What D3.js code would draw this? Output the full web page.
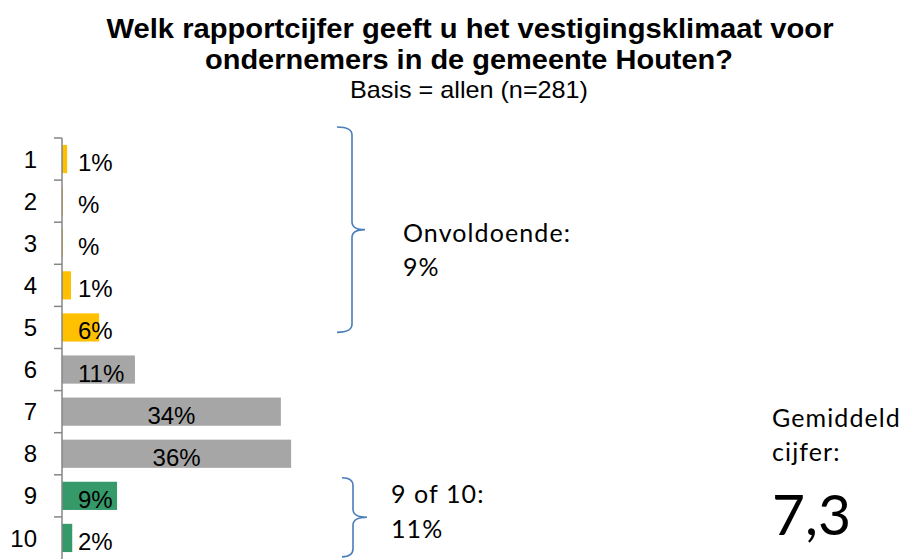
<!DOCTYPE html>
<html>
<head>
<meta charset="utf-8">
<script src="https://cdn.jsdelivr.net/npm/d3@7"></script>
<style>
  body { margin: 0; background: #fff; }
  svg { display: block; }
</style>
</head>
<body>
<svg width="910" height="559"></svg>
<script>
const categories = ["1", "2", "3", "4", "5", "6", "7", "8", "9", "10"];
const values = [0.8, 0.15, 0.15, 1.4, 5.8, 11.4, 34.2, 35.8, 8.6, 1.6];
const valueLabels = ["1%", "%", "%", "1%", "6%", "11%", "34%", "36%", "9%", "2%"];
const groups = ["low", "low", "low", "low", "low", "mid", "mid", "mid", "high", "high"];

const titleLines = [
  "Welk rapportcijfer geeft u het vestigingsklimaat voor",
  "ondernemers in de gemeente Houten?"
];
const subtitle = "Basis = allen (n=281)";

const svg = d3.select("svg");
const arial = "'Liberation Sans', Arial, sans-serif";
const calibri = "Lato, 'Open Sans', sans-serif";

// title
svg.append("text")
  .attr("x", 470).attr("y", 38)
  .attr("text-anchor", "middle")
  .attr("font-family", arial).attr("font-weight", "bold").attr("font-size", 28)
  .attr("textLength", 727).attr("lengthAdjust", "spacingAndGlyphs")
  .text(titleLines[0]);
svg.append("text")
  .attr("x", 469).attr("y", 69)
  .attr("text-anchor", "middle")
  .attr("font-family", arial).attr("font-weight", "bold").attr("font-size", 28)
  .attr("textLength", 528).attr("lengthAdjust", "spacingAndGlyphs")
  .text(titleLines[1]);
svg.append("text")
  .attr("x", 469).attr("y", 98)
  .attr("text-anchor", "middle")
  .attr("font-family", arial).attr("font-size", 24)
  .attr("textLength", 238).attr("lengthAdjust", "spacingAndGlyphs")
  .text(subtitle);

// scales
const y = d3.scaleBand().domain(categories).range([138, 559])
  .paddingInner(0.33).paddingOuter(0.165);
const x = d3.scaleLinear().domain([0, 40]).range([62, 318]);
const color = d3.scaleOrdinal().domain(["low", "mid", "high"])
  .range(["#FFC000", "#A6A6A6", "#35996A"]);

const data = categories.map((c, i) => ({
  cat: c, value: values[i], label: valueLabels[i], group: groups[i]
}));

// bars
svg.append("g").selectAll("rect")
  .data(data)
  .join("rect")
  .attr("x", x(0))
  .attr("y", (d) => y(d.cat))
  .attr("width", (d) => x(d.value) - x(0))
  .attr("height", y.bandwidth())
  .attr("fill", (d) => color(d.group));

// axis
const axisG = svg.append("g").attr("transform", `translate(${x(0)},0)`);
axisG.append("line")
  .attr("x1", 0).attr("x2", 0)
  .attr("y1", y.range()[0]).attr("y2", y.range()[1])
  .attr("stroke", "#868686").attr("stroke-width", 1.5);
const step = y.step();
const bounds = categories.map((c) => y(c) - (step - y.bandwidth()) / 2);
axisG.selectAll("line.tick")
  .data(bounds)
  .join("line")
  .attr("class", "tick")
  .attr("x1", -8).attr("x2", 0)
  .attr("y1", (d) => d).attr("y2", (d) => d)
  .attr("stroke", "#868686").attr("stroke-width", 1.5);

svg.append("g").selectAll("text")
  .data(categories)
  .join("text")
  .attr("x", 37)
  .attr("y", (d) => y(d) + y.bandwidth() / 2)
  .attr("dy", "0.36em")
  .attr("text-anchor", "end")
  .attr("font-family", arial).attr("font-size", 24)
  .attr("fill", "#000")
  .text((d) => d);

// value labels
svg.append("g").selectAll("text")
  .data(data)
  .join("text")
  .attr("y", (d) => y(d.cat) + y.bandwidth() / 2)
  .attr("dy", "0.5em")
  .attr("font-family", arial).attr("font-size", 24)
  .attr("fill", "#000")
  .text((d) => d.label)
  .each(function (d) {
    const w = this.getComputedTextLength();
    const center = (x(0) + x(d.value)) / 2;
    d3.select(this).attr("x", Math.max(78, center - w / 2));
  });

// braces
function brace(x0, x1, tip, top, bottom) {
  const mid = (top + bottom) / 2;
  const r = 8;
  return `M${x0},${top} Q${x1},${top} ${x1},${top + r} L${x1},${mid - r} ` +
    `Q${x1},${mid} ${tip},${mid} Q${x1},${mid} ${x1},${mid + r} ` +
    `L${x1},${bottom - r} Q${x1},${bottom} ${x0},${bottom}`;
}
svg.append("path")
  .attr("d", brace(337, 352, 365, y("1") - 18, y("5") + 19))
  .attr("fill", "none").attr("stroke", "#4A7EBB").attr("stroke-width", 1.6);
svg.append("path")
  .attr("d", brace(342, 353, 367, y("9") - 4, y("10") + 33))
  .attr("fill", "none").attr("stroke", "#4A7EBB").attr("stroke-width", 1.6);

const notes = [
  { x: 403, y: 242, size: 25, text: "Onvoldoende:" },
  { x: 403, y: 276, size: 25, text: "9%" },
  { x: 391, y: 503, size: 25, text: "9 of 10:" },
  { x: 391, y: 538, size: 25, text: "11%" },
  { x: 772, y: 427, size: 25, text: "Gemiddeld" },
  { x: 772, y: 461, size: 25, text: "cijfer:" },
  { x: 772, y: 535, size: 57, text: "7,3" }
];
svg.append("g").selectAll("text")
  .data(notes)
  .join("text")
  .attr("x", (d) => d.x).attr("y", (d) => d.y)
  .attr("font-family", calibri).attr("font-size", (d) => d.size)
  .attr("letter-spacing", (d) => (d.size < 40 ? 1.1 : 0))
  .attr("fill", "#000")
  .text((d) => d.text);
</script>
</body>
</html>
